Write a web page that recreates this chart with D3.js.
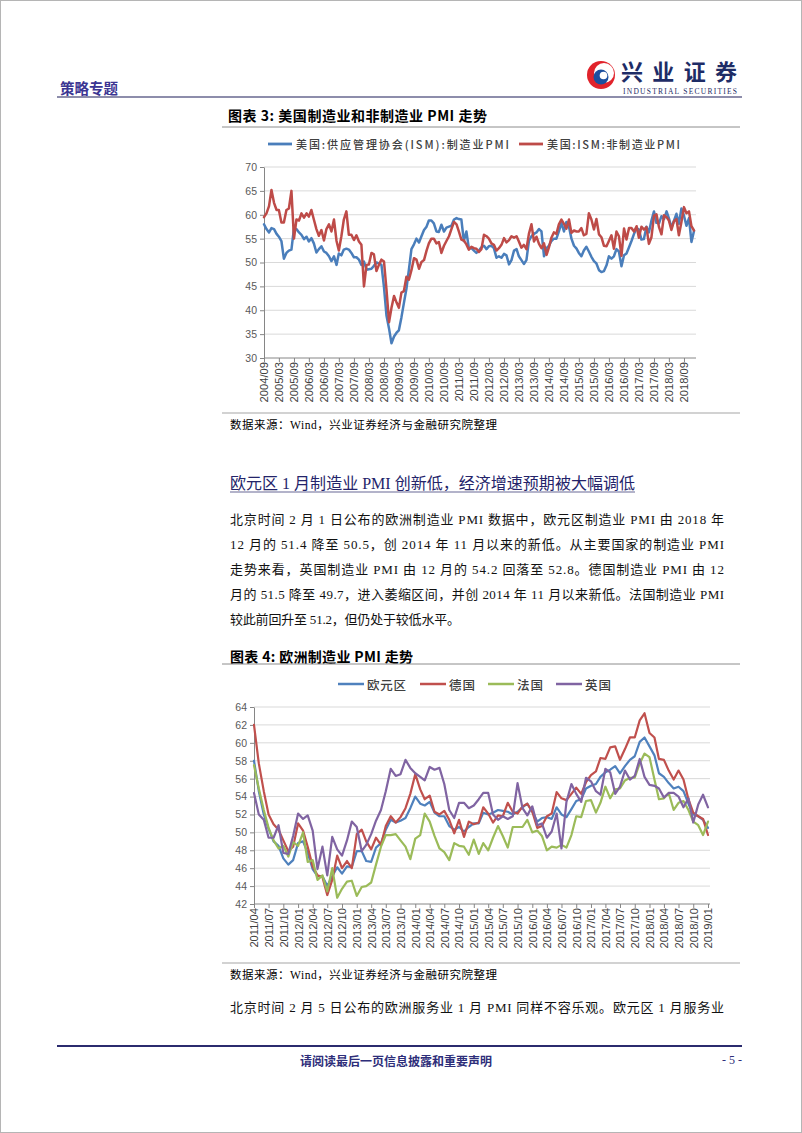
<!DOCTYPE html>
<html><head><meta charset="utf-8">
<script src="https://cdn.jsdelivr.net/npm/d3@7"></script>
<style>
html,body{margin:0;padding:0;background:#fff;}
svg{display:block;}
</style></head><body>
<svg id="page" width="802" height="1133"></svg>
<script>
// ---------------- DATA ----------------
const usStartMonth = "2004/09";
const usSeriesNames = ["美国:供应管理协会(ISM):制造业PMI", "美国:ISM:非制造业PMI"];
const usManufacturing = [
 58.0,57.0,56.3,57.2,57.0,56.0,55.4,54.5,50.8,52.0,52.5,52.7,
 57.2,57.0,56.3,55.8,54.9,55.4,54.4,55.1,54.0,52.1,52.8,53.4,
 52.3,52.0,51.3,50.3,51.3,49.5,51.9,51.5,52.7,52.9,52.7,52.0,
 51.1,51.1,50.6,49.5,50.2,48.5,48.6,48.7,49.3,50.0,49.8,49.5,
 44.8,38.9,36.2,33.1,34.5,35.3,35.8,38.5,41.5,44.5,48.5,52.8,
 53.8,55.0,54.2,55.5,
 56.8,57.5,58.8,58.8,58.2,56.5,56.4,57.9,56.5,57.3,57.5,57.7,
 59.0,59.3,59.1,59.0,54.5,56.5,53.0,53.0,52.5,52.0,52.5,53.2,
 53.5,52.8,53.4,53.5,53.0,51.0,51.3,51.0,51.8,51.5,49.6,50.5,
 52.5,52.8,51.3,50.5,49.7,50.5,54.5,55.5,56.0,56.3,57.0,56.5,
 51.3,53.0,53.5,54.5,55.0,55.0,56.5,58.3,56.5,58.5,57.5,55.0,
 53.5,52.9,52.0,51.3,52.5,53.3,52.3,51.2,50.3,49.8,48.4,48.0,
 48.2,49.4,51.3,50.8,51.3,52.8,52.3,49.2,51.5,51.9,53.2,54.5,
 56.0,57.2,56.9,54.8,54.9,57.5,56.3,58.8,60.7,58.3,58.2,59.7,
 59.1,60.7,59.3,57.3,58.7,60.2,58.1,61.3,59.8,57.7,59.3,54.3,
 56.6
];
const usNonManufacturing = [
 59.5,60.3,61.8,65.2,62.5,61.0,61.0,58.4,58.4,61.0,61.3,65.0,
 55.0,59.0,58.8,60.3,59.4,60.3,59.6,61.0,59.0,57.0,55.6,56.8,
 54.6,57.0,58.0,56.5,59.0,54.5,52.5,55.5,59.0,60.7,55.8,55.8,
 54.7,55.7,54.4,53.7,45.0,49.5,49.6,52.0,51.7,48.2,49.5,50.6,
 50.2,44.4,37.5,40.5,43.0,41.6,40.5,43.7,44.0,47.0,46.4,48.4,
 50.9,50.6,48.7,50.1,
 50.5,52.5,54.0,55.0,55.0,54.0,54.3,52.0,53.5,54.5,55.5,57.0,
 58.5,58.0,56.5,54.8,54.6,53.8,52.7,53.3,53.0,52.9,52.2,52.8,
 55.8,55.5,55.0,54.0,53.7,52.5,53.0,53.7,55.1,54.2,54.7,55.5,
 55.2,55.5,54.4,53.1,53.7,52.8,56.0,58.0,54.4,55.4,53.9,53.0,
 54.0,51.6,53.1,55.2,56.3,56.0,58.0,59.0,58.1,57.1,59.0,56.2,
 56.7,56.5,56.5,57.2,55.7,56.0,60.3,59.0,56.9,59.1,55.9,55.3,
 53.5,53.4,54.5,55.7,52.9,56.5,55.5,51.4,57.1,54.8,57.2,57.2,
 56.5,57.6,55.2,57.5,56.9,57.4,53.9,55.3,59.8,60.1,57.4,55.9,
 59.9,59.5,58.8,56.8,58.6,59.1,55.7,58.5,61.6,60.3,60.7,57.6,
 56.7
];
const usTickLabels = ["2004/09","2005/03","2005/09","2006/03","2006/09","2007/03","2007/09",
 "2008/03","2008/09","2009/03","2009/09","2010/03","2010/09","2011/03","2011/09","2012/03",
 "2012/09","2013/03","2013/09","2014/03","2014/09","2015/03","2015/09","2016/03","2016/09",
 "2017/03","2017/09","2018/03","2018/09"];
const usYTicks = [30,35,40,45,50,55,60,65,70];

const euStartMonth = "2011/04";
const euSeriesNames = ["欧元区","德国","法国","英国"];
const euroArea = [
 58.0,54.6,52.0,50.4,49.0,48.5,47.1,46.4,46.9,
 48.8,49.0,47.7,45.9,45.1,45.1,44.0,45.1,46.1,45.4,46.2,46.1,
 47.9,47.9,46.8,46.7,48.3,48.8,50.3,51.4,51.1,51.3,51.6,52.7,
 54.0,53.2,53.0,53.4,52.2,51.8,51.8,50.7,50.3,50.6,50.1,50.6,
 51.0,51.0,52.2,52.0,52.2,52.5,52.4,52.3,52.0,52.3,52.8,53.2,
 52.3,51.2,51.6,51.7,51.5,52.8,52.0,51.7,52.6,53.5,53.7,54.9,
 55.2,55.4,56.2,56.7,57.0,57.4,56.6,57.4,58.1,58.5,60.1,60.6,
 59.6,58.6,56.6,56.2,55.5,54.9,55.1,54.6,53.2,52.0,51.8,51.4,
 50.5
];
const germany = [
 62.0,57.7,54.6,52.0,50.9,50.3,49.1,47.9,48.4,
 51.0,50.2,48.4,46.2,45.2,45.0,43.0,44.7,47.4,46.0,46.8,46.0,
 49.8,50.3,49.0,48.1,49.4,48.6,50.7,51.8,51.1,51.7,52.7,54.3,
 56.5,54.8,53.7,54.1,52.3,52.0,52.4,51.4,49.9,51.4,49.5,51.2,
 50.9,51.1,52.8,52.1,51.1,51.9,51.8,53.3,52.3,52.1,52.9,53.2,
 52.3,50.5,50.7,51.8,52.1,54.5,53.8,53.6,54.3,55.0,54.3,55.6,
 56.4,56.8,58.3,58.2,59.5,59.6,58.1,59.3,60.6,60.6,62.5,63.3,
 61.1,60.6,58.2,58.1,56.9,55.9,56.9,55.9,53.7,52.2,51.8,51.5,
 49.7
];
const france = [
 57.5,54.9,52.5,50.5,49.1,48.2,48.5,47.3,48.9,
 48.5,50.0,46.7,46.9,44.7,45.2,43.4,46.0,42.7,43.7,44.5,44.6,
 42.9,43.9,44.0,44.4,46.4,48.4,49.7,49.7,49.8,49.1,48.4,47.0,
 49.3,49.7,52.1,51.2,49.6,48.2,47.8,46.9,48.8,48.5,48.4,47.5,
 49.2,47.6,48.8,48.0,49.4,50.7,49.6,48.3,50.6,50.6,50.6,51.4,
 50.0,50.2,49.6,48.0,48.4,48.3,48.6,48.3,49.7,51.8,51.7,53.5,
 53.6,52.2,53.3,55.1,53.8,54.8,54.9,55.8,56.1,56.1,57.7,58.8,
 58.4,55.9,53.7,53.8,54.4,52.5,53.3,53.5,52.5,51.2,50.8,49.7,
 51.2
];
const unitedKingdom = [
 54.4,52.0,51.4,49.4,49.4,50.8,47.7,47.6,49.6,
 52.1,51.5,51.9,50.2,45.9,48.4,45.2,49.5,48.1,47.4,49.1,51.2,
 50.6,47.9,48.6,49.8,51.3,52.5,54.6,57.1,56.3,56.5,58.1,57.2,
 56.6,56.2,55.8,57.3,57.0,57.2,55.4,52.5,51.6,53.3,53.3,52.7,
 53.0,53.7,54.4,54.4,52.0,51.4,51.8,51.5,51.8,55.5,52.7,51.9,
 52.9,50.8,51.0,49.4,50.1,52.1,48.2,53.4,55.4,54.3,53.4,56.1,
 55.7,54.6,54.2,57.1,56.7,54.3,55.1,56.9,55.9,56.3,58.2,56.2,
 55.3,55.2,54.9,53.9,54.4,54.4,54.0,52.8,53.8,51.1,53.1,54.2,
 52.8
];
const euTickLabels = ["2011/04","2011/07","2011/10","2012/01","2012/04","2012/07","2012/10",
 "2013/01","2013/04","2013/07","2013/10","2014/01","2014/04","2014/07","2014/10","2015/01",
 "2015/04","2015/07","2015/10","2016/01","2016/04","2016/07","2016/10","2017/01","2017/04",
 "2017/07","2017/10","2018/01","2018/04","2018/07","2018/10","2019/01"];
const euYTicks = [42,44,46,48,50,52,54,56,58,60,62,64];

// ---------------- DRAW ----------------
const svg = d3.select("#page");
const CJK = "'Noto Sans CJK SC','Noto Sans',sans-serif";
const SERIF = "'Liberation Serif','Noto Sans CJK SC',serif";
const SANS = "'Liberation Sans','Noto Sans',sans-serif";
const parse = d3.timeParse("%Y/%m");

svg.append("rect").attr("x",0.5).attr("y",0.5).attr("width",801).attr("height",1132)
  .attr("fill","#fff").attr("stroke","#b5b5b5");

function txt(x, y, s, o) {
  const t = svg.append("text").attr("x", x).attr("y", y).text(s)
    .attr("dominant-baseline","central")
    .attr("font-family", o.family || CJK).attr("font-size", o.size || 13)
    .attr("fill", o.fill || "#000");
  if (o.weight) t.attr("font-weight", o.weight);
  if (o.anchor) t.attr("text-anchor", o.anchor);
  if (o.len) t.attr("textLength", o.len).attr("lengthAdjust","spacing");
  return t;
}
function hline(x1, x2, y, color, w) {
  svg.append("line").attr("x1",x1).attr("x2",x2).attr("y1",y).attr("y2",y)
    .attr("stroke",color).attr("stroke-width",w);
}

// Header
txt(60, 87, "策略专题", {size:14.5, weight:700, fill:"#3b3592", len:58});
// logo
const lg = svg.append("g").attr("transform","translate(601,75)");
lg.append("circle").attr("r",14).attr("fill","#e1232b");
lg.append("circle").attr("cx",3).attr("cy",-2).attr("r",10).attr("fill","#fff");
lg.append("circle").attr("cx",0).attr("cy",2).attr("r",7.5).attr("fill","#1d4f9e");
lg.append("circle").attr("cx",2.5).attr("cy",0.5).attr("r",3.8).attr("fill","#fff");
txt(621, 70, "兴业证券", {size:22, weight:700, fill:"#1e2c66", len:116});
txt(623, 91, "INDUSTRIAL SECURITIES", {size:7.5, family:SERIF, fill:"#1e2c66", len:114});
hline(57, 742, 97, "#8d8dab", 2);

// Chart 3 titles
txt(228, 115, "图表 3: 美国制造业和非制造业 PMI 走势", {size:14, weight:700, len:259});
hline(222, 740, 127, "#8c8c8c", 1);

function drawChart(cfg) {
  const g = svg.append("g");
  const start = parse(cfg.start);
  const n = cfg.series[0].values.length;
  const dates = d3.range(n).map(i => d3.timeMonth.offset(start, i));
  const x = d3.scaleTime().domain([dates[0], dates[n-1]]).range([cfg.x0, cfg.x1]);
  const y = d3.scaleLinear().domain(cfg.yDomain).range([cfg.yBottom, cfg.yTop]);

  // grid
  g.selectAll(".grid").data(cfg.yTicks.slice(1)).enter().append("line")
    .attr("x1", cfg.x0).attr("x2", cfg.gridRight)
    .attr("y1", d => y(d)).attr("y2", d => y(d))
    .attr("stroke", "#d9d9d9").attr("stroke-width", 1);

  // y axis
  const ya = g.append("g").attr("transform", `translate(${cfg.x0},0)`)
    .call(d3.axisLeft(y).tickValues(cfg.yTicks).tickSize(4).tickSizeOuter(0).tickPadding(3).tickFormat(d3.format("d")));
  ya.select(".domain").attr("stroke", "#868686");
  ya.selectAll(".tick line").attr("stroke", "#868686");
  ya.selectAll(".tick text").attr("font-family", SANS).attr("font-size", cfg.yFont).attr("fill", "#595959");

  // x axis
  const tickDates = cfg.tickLabels.map(parse);
  const xa = g.append("g").attr("transform", `translate(0,${cfg.yBottom})`)
    .call(d3.axisBottom(x).tickValues(tickDates).tickSize(4).tickSizeOuter(0).tickFormat(d3.timeFormat("%Y/%m")));
  xa.select(".domain").attr("d", `M${cfg.x0},0H${cfg.gridRight}`).attr("stroke", "#868686");
  xa.selectAll(".tick line").attr("stroke", "#868686");
  xa.selectAll(".tick text")
    .attr("font-family", SANS).attr("font-size", cfg.xFont).attr("fill", "#404040")
    .attr("text-anchor", "end").attr("y", 0).attr("dy", "0.35em")
    .attr("transform", `translate(0,${cfg.labelTop - cfg.yBottom}) rotate(-90)`);

  // lines
  const line = d3.line().x((d, i) => x(dates[i])).y(d => y(d));
  cfg.series.forEach(s => {
    g.append("path").datum(s.values).attr("d", line)
      .attr("fill", "none").attr("stroke", s.color).attr("stroke-width", cfg.lw)
      .attr("stroke-linejoin", "round").attr("stroke-linecap", "round");
  });

  // legend
  cfg.series.forEach(s => {
    g.append("line").attr("x1", s.lx1).attr("x2", s.lx2).attr("y1", cfg.legendY).attr("y2", cfg.legendY)
      .attr("stroke", s.color).attr("stroke-width", cfg.lw + 0.3);
    txt(s.tx, cfg.legendY, s.name, {size: cfg.legendFont, fill:"#404040", len: s.tlen, weight:500});
  });
}

drawChart({
  start: usStartMonth, x0: 264, x1: 694, gridRight: 696, yTop: 167, yBottom: 358,
  yDomain: [30, 70], yTicks: usYTicks, tickLabels: usTickLabels, labelTop: 362,
  yFont: 10.5, xFont: 11.2, lw: 2.5, legendY: 144, legendFont: 11,
  series: [
    {name: usSeriesNames[0], values: usManufacturing, color: "#4a7ebb", lx1: 268, lx2: 292, tx: 296, tlen: 213},
    {name: usSeriesNames[1], values: usNonManufacturing, color: "#be4b48", lx1: 519, lx2: 543, tx: 547, tlen: 133}
  ]
});

hline(222, 740, 413, "#a6a6a6", 1.2);
txt(230, 425, "数据来源：Wind，兴业证券经济与金融研究院整理", {size:11.5, family:SERIF, len:267});

// Section heading
txt(230, 483, "欧元区 1 月制造业 PMI 创新低，经济增速预期被大幅调低", {size:16, family:SERIF, fill:"#24246a", len:405});
hline(230, 635, 492, "#9a9ab8", 1.5);

// Paragraph
const paraLines = [
 "北京时间 2 月 1 日公布的欧洲制造业 PMI 数据中，欧元区制造业 PMI 由 2018 年",
 "12 月的 51.4 降至 50.5，创 2014 年 11 月以来的新低。从主要国家的制造业 PMI",
 "走势来看，英国制造业 PMI 由 12 月的 54.2 回落至 52.8。德国制造业 PMI 由 12",
 "月的 51.5 降至 49.7，进入萎缩区间，并创 2014 年 11 月以来新低。法国制造业 PMI",
 "较此前回升至 51.2，但仍处于较低水平。"
];
const paraY = [519, 544, 569, 594, 619];
paraLines.forEach((s, i) => {
  txt(230, paraY[i], s, {size:13, family:SERIF, fill:"#111", len: i < 4 ? 494 : 230});
});

// Chart 4 title
txt(230, 656, "图表 4: 欧洲制造业 PMI 走势", {size:14, weight:700, len:183});
hline(222, 740, 664, "#8c8c8c", 1);

drawChart({
  start: euStartMonth, x0: 254, x1: 708, gridRight: 710, yTop: 707, yBottom: 904,
  yDomain: [42, 64], yTicks: euYTicks, tickLabels: euTickLabels, labelTop: 908,
  yFont: 10.5, xFont: 11.2, lw: 2.2, legendY: 684, legendFont: 12.5,
  series: [
    {name: euSeriesNames[0], values: euroArea, color: "#4f81bd", lx1: 338, lx2: 364, tx: 367, tlen: 39},
    {name: euSeriesNames[1], values: germany, color: "#c0504d", lx1: 420, lx2: 446, tx: 449, tlen: 26},
    {name: euSeriesNames[2], values: france, color: "#9bbb59", lx1: 488, lx2: 514, tx: 517, tlen: 26},
    {name: euSeriesNames[3], values: unitedKingdom, color: "#8064a2", lx1: 556, lx2: 582, tx: 585, tlen: 26}
  ]
});

hline(222, 740, 963, "#a6a6a6", 1.2);
txt(230, 975, "数据来源：Wind，兴业证券经济与金融研究院整理", {size:11.5, family:SERIF, len:267});

txt(230, 1007, "北京时间 2 月 5 日公布的欧洲服务业 1 月 PMI 同样不容乐观。欧元区 1 月服务业", {size:13, family:SERIF, fill:"#111", len:494});

// Footer
hline(57, 742, 1046, "#2b2b6e", 2);
txt(396, 1060, "请阅读最后一页信息披露和重要声明", {size:12, weight:700, fill:"#2e2e7a", anchor:"middle", len:192});
txt(742, 1060, "- 5 -", {size:12, family:SERIF, fill:"#2e2e7a", anchor:"end"});
</script>
</body></html>
